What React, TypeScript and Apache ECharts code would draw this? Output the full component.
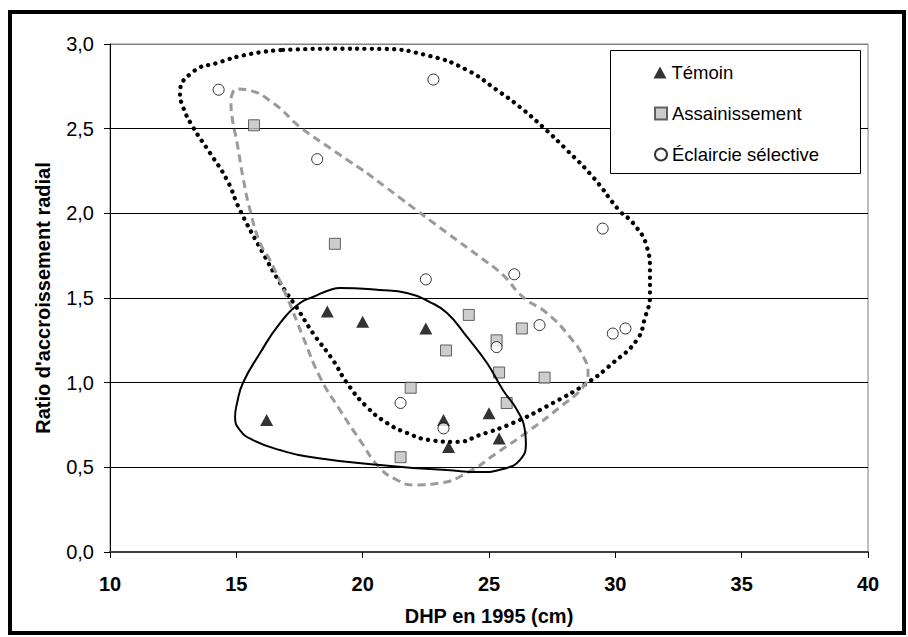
import React, { useEffect, useRef } from "react";
import * as echarts from "echarts";

// ---- Data ----
const xTicks = [10, 15, 20, 25, 30, 35, 40];
const yTicks = [0, 0.5, 1, 1.5, 2, 2.5, 3];

const temoin: number[][] = [
  [16.2, 0.78], [18.6, 1.42], [20.0, 1.36], [22.5, 1.32],
  [23.2, 0.78], [23.4, 0.62], [25.0, 0.82], [25.4, 0.67],
];
const assainissement: number[][] = [
  [15.7, 2.52], [18.9, 1.82], [21.5, 0.56], [21.9, 0.97], [23.3, 1.19], [24.2, 1.40],
  [25.3, 1.25], [25.4, 1.06], [25.7, 0.88], [26.3, 1.32], [27.2, 1.03],
];
const eclaircie: number[][] = [
  [14.3, 2.73], [18.2, 2.32], [21.5, 0.88], [22.5, 1.61], [22.8, 2.79], [23.2, 0.73],
  [25.3, 1.21], [26.0, 1.64], [27.0, 1.34], [29.5, 1.91], [29.9, 1.29], [30.4, 1.32],
];

// hand-drawn enclosing outlines (data coordinates)
const outlineEclaircie: number[][] = [
  [16.85, 2.965], [18.82, 2.972], [20.68, 2.971], [22.66, 2.929], [24.13, 2.846], [25.31, 2.728],
  [26.22, 2.628], [27.13, 2.51], [28.08, 2.374], [29.11, 2.215], [30.18, 2.013], [30.7, 1.943],
  [31.25, 1.801], [31.37, 1.665], [31.37, 1.518], [31.17, 1.382], [30.85, 1.252], [29.9, 1.116],
  [28.88, 0.998], [27.53, 0.88], [25.95, 0.762], [24.64, 0.691], [23.73, 0.65], [22.66, 0.661],
  [21.75, 0.703], [20.96, 0.762], [20.17, 0.856], [19.38, 0.998], [18.82, 1.134], [18.03, 1.293],
  [17.4, 1.441], [16.73, 1.589], [16.05, 1.766], [15.14, 2.02], [14.63, 2.197], [13.96, 2.356],
  [13.28, 2.51], [12.89, 2.628], [12.77, 2.711], [13.28, 2.835], [14.23, 2.888], [15.54, 2.941],
  [16.85, 2.965],
];
const outlineAssainissement: number[][] = [
  [20.17, 2.238], [21.48, 2.091], [23.34, 1.884], [24.64, 1.742], [25.55, 1.636], [26.34, 1.506],
  [27.29, 1.411], [28.2, 1.27], [28.8, 1.134], [28.92, 1.057], [28.72, 0.974], [27.81, 0.856],
  [26.62, 0.72], [25.31, 0.585], [24.13, 0.467], [23.06, 0.407], [21.99, 0.396], [21.36, 0.425],
  [20.68, 0.496], [19.89, 0.661], [19.1, 0.839], [18.31, 1.033], [17.64, 1.27], [17.0, 1.506],
  [16.33, 1.724], [15.94, 1.825], [15.54, 2.02], [15.26, 2.215], [15.03, 2.415], [14.83, 2.569],
  [14.79, 2.652], [14.87, 2.717], [15.07, 2.734], [15.42, 2.729], [16.45, 2.652], [17.52, 2.51],
  [18.82, 2.374], [20.17, 2.238],
];
const outlineTemoin: number[][] = [
  [21.99, 0.496], [20.68, 0.514], [18.19, 0.555], [16.73, 0.602], [15.66, 0.661], [15.14, 0.72],
  [14.95, 0.797], [15.03, 0.88], [15.26, 0.998], [15.94, 1.175], [16.73, 1.352], [17.52, 1.47],
  [18.03, 1.506], [18.82, 1.553], [19.1, 1.559], [20.68, 1.547], [21.75, 1.53], [22.66, 1.476],
  [23.34, 1.411], [24.13, 1.27], [24.92, 1.116], [25.55, 0.957], [26.11, 0.839], [26.42, 0.72],
  [26.46, 0.644], [26.22, 0.543], [25.55, 0.49], [24.64, 0.472], [23.34, 0.484], [21.99, 0.496],
];

const FONT = "'Liberation Sans', Arial, sans-serif";

export default function App() {
  const ref = useRef<HTMLDivElement>(null);

  useEffect(() => {
    if (!ref.current) return;
    const chart = echarts.init(ref.current, null, { renderer: "svg" });
    const legendText = { fontSize: 18.5, fontFamily: FONT, color: "#000" };
    const option: any = {
      animation: false,
      backgroundColor: "#fff",
      grid: {
        left: 110,
        right: 40,
        top: 44,
        bottom: 85,
        show: true,
        borderColor: "#808080",
        borderWidth: 1,
        containLabel: false,
      },
      xAxis: {
        type: "value",
        min: xTicks[0],
        max: xTicks[xTicks.length - 1],
        interval: 5,
        name: "DHP en 1995 (cm)",
        nameLocation: "middle",
        nameGap: 54,
        nameTextStyle: { fontSize: 20, fontWeight: "bold", fontFamily: FONT, color: "#000" },
        axisLine: { show: true, lineStyle: { color: "#404040", width: 2 } },
        axisTick: { show: true, inside: false, length: 6, lineStyle: { color: "#000", width: 1 } },
        axisLabel: { margin: 22, fontSize: 20, fontWeight: "bold", fontFamily: FONT, color: "#000" },
        splitLine: { show: false },
      },
      yAxis: {
        type: "value",
        min: yTicks[0],
        max: yTicks[yTicks.length - 1],
        interval: 0.5,
        name: "Ratio d'accroissement radial",
        nameLocation: "middle",
        nameGap: 57,
        nameTextStyle: { fontSize: 20, fontWeight: "bold", fontFamily: FONT, color: "#000" },
        axisLine: { show: true, lineStyle: { color: "#000", width: 1 } },
        axisTick: { show: true, inside: false, length: 6, lineStyle: { color: "#000", width: 1 } },
        axisLabel: {
          margin: 16,
          fontSize: 20,
          fontFamily: FONT,
          color: "#000",
          formatter: (v: number) => v.toFixed(1).replace(".", ","),
        },
        splitLine: {
          show: true,
          lineStyle: { color: ["#000", "#000", "#000", "#000", "#000", "#000", "#808080"], width: 1 },
        },
      },
      legend: [
        {
          data: ["Témoin"], orient: "vertical", left: 653.5, top: 63, padding: 0,
          itemWidth: 13, itemHeight: 12, textStyle: legendText, selectedMode: false, z: 100,
        },
        {
          data: ["Assainissement"], orient: "vertical", left: 654, top: 104, padding: 0,
          itemWidth: 12, itemHeight: 12, textStyle: legendText, selectedMode: false, z: 100,
        },
        {
          data: ["Éclaircie sélective"], orient: "vertical", left: 654, top: 145, padding: 0,
          itemWidth: 12, itemHeight: 12, textStyle: legendText, selectedMode: false, z: 100,
        },
      ],
      graphic: [
        {
          type: "rect",
          z: 50,
          shape: { x: 610.5, y: 50.5, width: 250, height: 123 },
          style: { fill: "#fff", stroke: "#000", lineWidth: 1 },
          silent: true,
        },
        {
          type: "rect",
          z: 100,
          shape: { x: 10, y: 12, width: 894, height: 621 },
          style: { fill: "none", stroke: "#000", lineWidth: 4 },
          silent: true,
        },
      ],
      series: [
        {
          name: "Témoin",
          type: "scatter",
          data: temoin,
          symbol: "triangle",
          symbolSize: [13, 12],
          itemStyle: { color: "#000" },
          z: 3,
          silent: true,
        },
        {
          name: "Assainissement",
          type: "scatter",
          data: assainissement,
          symbol: "rect",
          symbolSize: 11,
          itemStyle: { color: "#c0c0c0", borderColor: "#404040", borderWidth: 1 },
          z: 3,
          silent: true,
        },
        {
          name: "Éclaircie sélective",
          type: "scatter",
          data: eclaircie,
          symbol: "circle",
          symbolSize: 11,
          itemStyle: { color: "#fff", borderColor: "#000", borderWidth: 1 },
          z: 3,
          silent: true,
        },
        {
          name: "contour-eclaircie",
          type: "line",
          data: outlineEclaircie,
          smooth: 0.5,
          showSymbol: false,
          symbol: "none",
          lineStyle: { color: "#000", width: 4.3, type: [0.1, 7.3], cap: "round" },
          z: 4,
          silent: true,
        },
        {
          name: "contour-assainissement",
          type: "line",
          data: outlineAssainissement,
          smooth: 0.5,
          showSymbol: false,
          symbol: "none",
          lineStyle: { color: "#9a9a9a", width: 3, type: [8, 5], cap: "butt" },
          z: 4,
          silent: true,
        },
        {
          name: "contour-temoin",
          type: "line",
          data: outlineTemoin,
          smooth: 0.5,
          showSymbol: false,
          symbol: "none",
          lineStyle: { color: "#000", width: 2 },
          z: 4,
          silent: true,
        },
      ],
    };
    chart.setOption(option);
    return () => chart.dispose();
  }, []);

  return (
    <div
      ref={ref}
      style={{ position: "fixed", left: 0, top: 0, width: 908, height: 637, background: "#fff" }}
    />
  );
}
